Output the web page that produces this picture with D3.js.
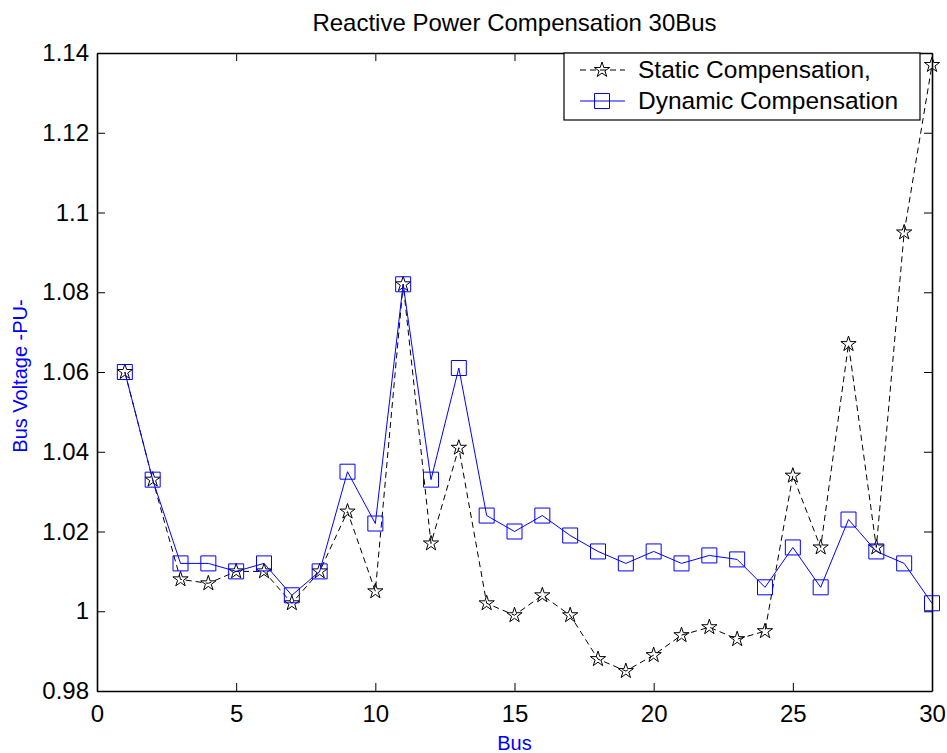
<!DOCTYPE html>
<html>
<head>
<meta charset="utf-8">
<script src="https://cdn.jsdelivr.net/npm/d3@7"></script>
<style>
  body { margin: 0; background: #fff; }
  svg text { font-family: "Liberation Sans", Arial, Helvetica, sans-serif; }
</style>
</head>
<body>
<div id="chart"></div>
<script>
// bus numbers (categories)
var buses = [1, 2, 3, 4, 5, 6, 7, 8, 9, 10, 11, 12, 13, 14, 15, 16, 17, 18, 19, 20, 21, 22, 23, 24, 25, 26, 27, 28, 29, 30];

// bus voltage in PU
var staticComp = [1.060, 1.033, 1.008, 1.007, 1.010, 1.010, 1.002, 1.010, 1.025, 1.005,
                  1.082, 1.017, 1.041, 1.002, 0.999, 1.004, 0.999, 0.988, 0.985, 0.989,
                  0.994, 0.996, 0.993, 0.995, 1.034, 1.016, 1.067, 1.016, 1.095, 1.137];
var dynamicComp = [1.060, 1.033, 1.012, 1.012, 1.010, 1.012, 1.004, 1.010, 1.035, 1.022,
                   1.082, 1.033, 1.061, 1.024, 1.020, 1.024, 1.019, 1.015, 1.012, 1.015,
                   1.012, 1.014, 1.013, 1.006, 1.016, 1.006, 1.023, 1.015, 1.012, 1.002];

var xTicks = [0, 5, 10, 15, 20, 25, 30];
var yTicks = [0.98, 1, 1.02, 1.04, 1.06, 1.08, 1.1, 1.12, 1.14];
var yTickLabels = ["0.98", "1", "1.02", "1.04", "1.06", "1.08", "1.1", "1.12", "1.14"];
var seriesNames = ["Static Compensation,", "Dynamic Compensation"];

var w = 947, h = 753;
var axLeft = 97, axRight = 932, axTop = 53, axBottom = 691;

var svg = d3.select("#chart").append("svg")
  .attr("width", w)
  .attr("height", h);

var xScale = d3.scaleLinear().domain([0, 30]).range([axLeft, axRight]);
var yScale = d3.scaleLinear().domain([0.98, 1.14]).range([axBottom, axTop]);

// axes, ticks pointing inward like matlab
function styleAxis(g) {
  g.attr("font-size", null).attr("font-family", null);
  g.select(".domain").attr("stroke", "#000").attr("stroke-width", 1.6);
  g.selectAll(".tick line").attr("stroke", "#000").attr("stroke-width", 1);
  g.selectAll(".tick text").attr("fill", "#000").style("font-size", "24px");
}

svg.append("g")
  .attr("transform", "translate(0," + axBottom + ")")
  .call(d3.axisBottom(xScale).tickValues(xTicks).tickSizeInner(-8).tickSizeOuter(0).tickPadding(14))
  .call(styleAxis);

svg.append("g")
  .attr("transform", "translate(0," + axTop + ")")
  .call(d3.axisTop(xScale).tickValues(xTicks).tickSizeInner(-8).tickSizeOuter(0).tickFormat(""))
  .call(styleAxis);

svg.append("g")
  .attr("transform", "translate(" + axLeft + ",0)")
  .call(d3.axisLeft(yScale).tickValues(yTicks).tickSizeInner(-8).tickSizeOuter(0).tickPadding(8)
    .tickFormat(function(d, i) { return yTickLabels[i]; }))
  .call(styleAxis);

svg.append("g")
  .attr("transform", "translate(" + axRight + ",0)")
  .call(d3.axisRight(yScale).tickValues(yTicks).tickSizeInner(-8).tickSizeOuter(0).tickFormat(""))
  .call(styleAxis);

// title and axis labels
svg.append("text")
  .attr("x", (axLeft + axRight) / 2)
  .attr("y", 31)
  .attr("text-anchor", "middle")
  .style("font-size", "24px")
  .text("Reactive Power Compensation 30Bus");

svg.append("text")
  .attr("x", (axLeft + axRight) / 2)
  .attr("y", 750)
  .attr("text-anchor", "middle")
  .attr("fill", "#0000ff")
  .style("font-size", "20px")
  .text("Bus");

svg.append("text")
  .attr("transform", "translate(27," + ((axTop + axBottom) / 2 + 4) + ") rotate(-90)")
  .attr("text-anchor", "middle")
  .attr("fill", "#0000ff")
  .style("font-size", "20px")
  .text("Bus Voltage -PU-");

var line = d3.line()
  .x(function(d, i) { return xScale(buses[i]); })
  .y(function(d) { return yScale(d); });

var star = d3.symbol().type(d3.symbolStar).size(72);
var square = d3.symbol().type(d3.symbolSquare).size(225);

// static compensation: black dashed with stars
svg.append("path")
  .datum(staticComp)
  .attr("d", line)
  .attr("fill", "none")
  .attr("stroke", "#000")
  .attr("stroke-width", 1)
  .attr("stroke-dasharray", "6,4");

svg.append("g")
  .selectAll("path")
  .data(staticComp)
  .enter()
  .append("path")
    .attr("d", star)
    .attr("transform", function(d, i) { return "translate(" + xScale(buses[i]) + "," + yScale(d) + ")"; })
    .attr("fill", "none")
    .attr("stroke", "#000")
    .attr("stroke-width", 1);

// dynamic compensation: blue solid with squares
svg.append("path")
  .datum(dynamicComp)
  .attr("d", line)
  .attr("fill", "none")
  .attr("stroke", "#0000ff")
  .attr("stroke-width", 1);

svg.append("g")
  .selectAll("path")
  .data(dynamicComp)
  .enter()
  .append("path")
    .attr("d", square)
    .attr("transform", function(d, i) { return "translate(" + xScale(buses[i]) + "," + yScale(d) + ")"; })
    .attr("fill", "none")
    .attr("stroke", "#0000ff")
    .attr("stroke-width", 1);

// legend
var legend = svg.append("g");
legend.append("rect")
  .attr("x", 564).attr("y", axTop)
  .attr("width", 356).attr("height", 67)
  .attr("fill", "#fff")
  .attr("stroke", "#000")
  .attr("stroke-width", 1.2);

var rows = [
  { name: seriesNames[0], color: "#000", dash: "6,4", shape: star, y: 70 },
  { name: seriesNames[1], color: "#0000ff", dash: null, shape: square, y: 101 }
];

rows.forEach(function(r) {
  legend.append("line")
    .attr("x1", 580).attr("x2", 625)
    .attr("y1", r.y).attr("y2", r.y)
    .attr("stroke", r.color)
    .attr("stroke-width", 1)
    .attr("stroke-dasharray", r.dash);
  legend.append("path")
    .attr("d", r.shape)
    .attr("transform", "translate(602," + r.y + ")")
    .attr("fill", "none")
    .attr("stroke", r.color)
    .attr("stroke-width", 1);
  legend.append("text")
    .attr("x", 638)
    .attr("y", r.y + 8)
    .style("font-size", "24.5px")
    .text(r.name);
});
</script>
</body>
</html>
